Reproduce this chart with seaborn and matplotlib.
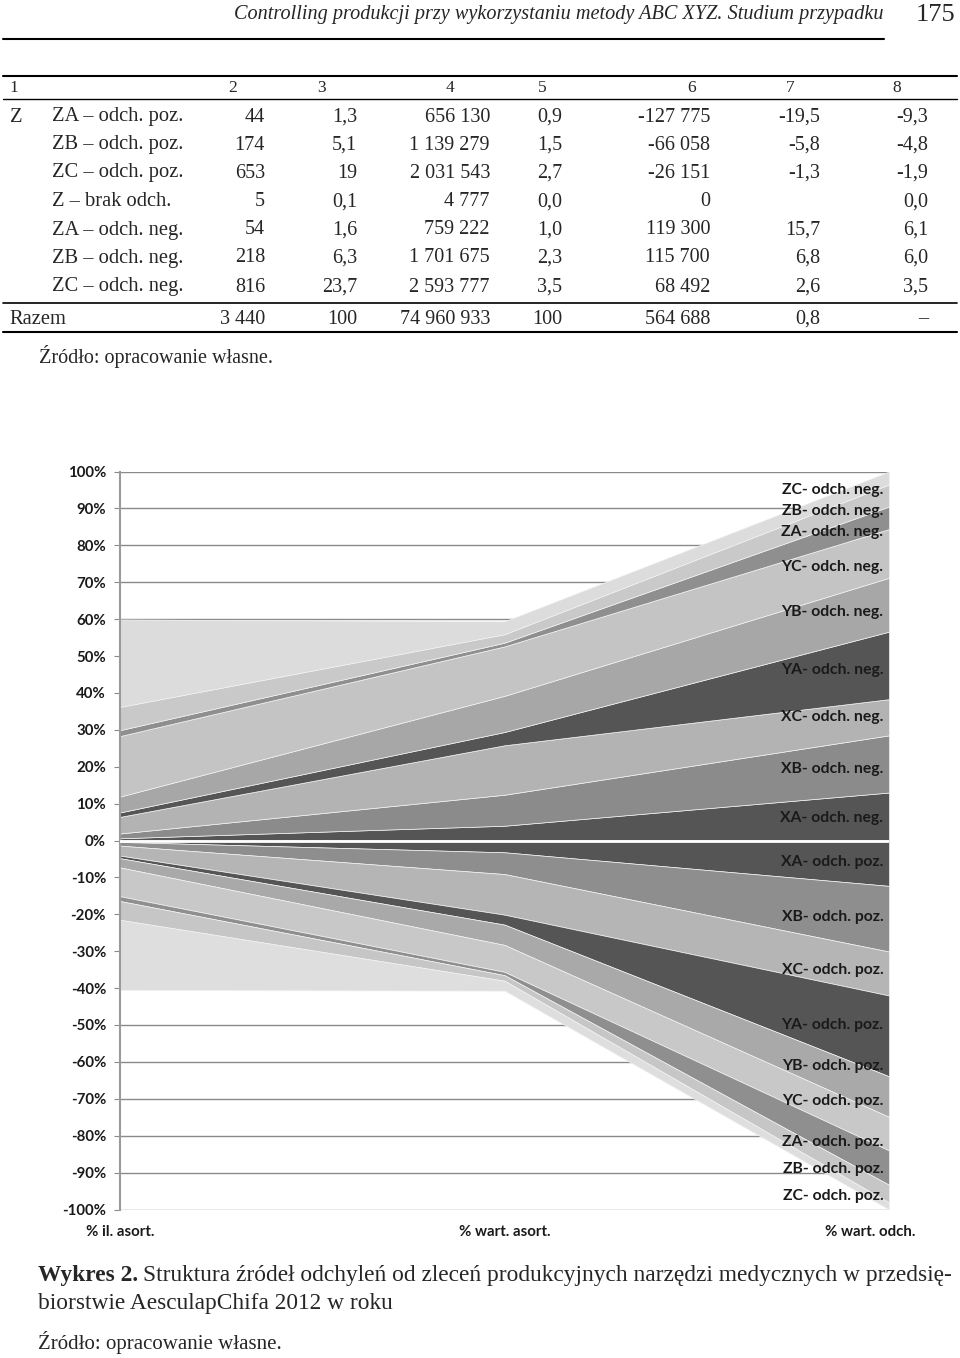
import matplotlib
matplotlib.use("Agg")
import matplotlib.pyplot as plt
from matplotlib.lines import Line2D
from matplotlib.transforms import ScaledTranslation
import numpy as np
import seaborn as sns

# ---------------- data ----------------
categories = ["% il. asort.", "% wart. asort.", "% wart. odch."]

# negative deviations (stacked upward), order bottom -> top
neg_names = ["XA- odch. neg.", "XB- odch. neg.", "XC- odch. neg.",
             "YA- odch. neg.", "YB- odch. neg.", "YC- odch. neg.",
             "ZA- odch. neg.", "ZB- odch. neg.", "ZC- odch. neg."]
xa_neg = [0.6, 4.0, 13.0]
xb_neg = [1.3, 8.4, 15.5]
xc_neg = [4.5, 13.4, 9.8]
ya_neg = [1.2, 3.6, 18.3]
yb_neg = [4.3, 9.8, 14.6]
yc_neg = [16.4, 13.4, 13.2]
za_neg = [1.6, 1.0, 6.1]
zb_neg = [6.3, 2.3, 6.0]
zc_neg = [23.7, 3.5, 3.5]

# positive deviations (stacked downward), order top -> bottom
poz_names = ["XA- odch. poz.", "XB- odch. poz.", "XC- odch. poz.",
             "YA- odch. poz.", "YB- odch. poz.", "YC- odch. poz.",
             "ZA- odch. poz.", "ZB- odch. poz.", "ZC- odch. poz."]
xa_poz = [-0.4, -3.2, -12.3]
xb_poz = [-1.0, -5.9, -17.8]
xc_poz = [-2.7, -11.0, -11.9]
ya_poz = [-0.7, -2.7, -21.9]
yb_poz = [-2.5, -5.5, -11.0]
yc_poz = [-7.8, -7.3, -9.1]
za_poz = [-1.3, -0.9, -9.3]
zb_poz = [-5.1, -1.5, -4.8]
zc_poz = [-19.0, -2.7, -1.9]

y_ticks = list(range(-100, 101, 10))
y_tick_labels = [f"{v}%" for v in y_ticks]

# table
table_header = ["1", "2", "3", "4", "5", "6", "7", "8"]
row_group = ["Z", "", "", "", "", "", ""]
row_names = ["ZA – odch. poz.", "ZB – odch. poz.", "ZC – odch. poz.", "Z – brak odch.",
             "ZA – odch. neg.", "ZB – odch. neg.", "ZC – odch. neg."]
col2 = ["44", "174", "653", "5", "54", "218", "816"]
col3 = ["1,3", "5,1", "19", "0,1", "1,6", "6,3", "23,7"]
col4 = ["656 130", "1 139 279", "2 031 543", "4 777", "759 222", "1 701 675", "2 593 777"]
col5 = ["0,9", "1,5", "2,7", "0,0", "1,0", "2,3", "3,5"]
col6 = ["-127 775", "-66 058", "-26 151", "0", "119 300", "115 700", "68 492"]
col7 = ["-19,5", "-5,8", "-1,3", "", "15,7", "6,8", "2,6"]
col8 = ["-9,3", "-4,8", "-1,9", "0,0", "6,1", "6,0", "3,5"]
totals = ["Razem", "3 440", "100", "74 960 933", "100", "564 688", "0,8", "–"]

# ---------------- style ----------------
sns.set_style("white")
plt.rcParams["font.family"] = ["Liberation Serif", "DejaVu Serif"]

W, H = 960, 1358
fig = plt.figure(figsize=(W / 100, H / 100), dpi=100)


def T(x, y, s, **kw):
    kw.setdefault("va", "center")
    return fig.text(x / W, 1 - y / H, s, **kw)


def HL(x1, x2, y, lw=1.2):
    fig.add_artist(Line2D([x1 / W, x2 / W], [1 - y / H, 1 - y / H], lw=lw, color="black"))


# page header
T(884, 15, "Controlling produkcji przy wykorzystaniu metody ABC XYZ. Studium przypadku",
  ha="right", style="italic", fontsize=14.6)
T(955, 15, "175", ha="right", fontsize=19)
HL(3, 884, 39, 1.5)

# table
HL(3, 957, 76, 1.5)
HL(3, 957, 99, 1.0)
HL(3, 957, 303, 1.2)
HL(3, 957, 332, 1.5)
hdr_x = [9, 233, 321, 450, 542, 692, 790, 897]
for x, s in zip(hdr_x, table_header):
    T(x, 88, s, ha="left" if x == 9 else "center", fontsize=12.5)

right_edges = [265, 357, 490, 562, 710, 820, 928]
row_y = [117, 145, 173, 202, 230, 258, 287]
for i, y in enumerate(row_y):
    if row_group[i]:
        T(10, y, row_group[i], ha="left", fontsize=14.8)
    T(52, y, row_names[i], ha="left", fontsize=14.8)
    for xr, col in zip(right_edges, [col2, col3, col4, col5, col6, col7, col8]):
        T(xr, y, col[i], ha="right", fontsize=14.5)
T(9, 319, totals[0], ha="left", fontsize=14.8)
for xr, s in zip(right_edges, totals[1:]):
    T(xr, 319, s, ha="right", fontsize=14.5)
T(39, 357, "Źródło: opracowanie własne.", ha="left", fontsize=14.5)

# caption
cap_bold = T(38, 1276, "Wykres 2.", ha="left", fontsize=16.8, fontweight="bold")
fig.canvas.draw()
bb = cap_bold.get_window_extent()
T(bb.x1 + 5, 1276, "Struktura źródeł odchyleń od zleceń produkcyjnych narzędzi medycznych w przedsię-",
  ha="left", fontsize=16.8)
T(38, 1304, "biorstwie AesculapChifa 2012 w roku", ha="left", fontsize=16.8)
T(38, 1343, "Źródło: opracowanie własne.", ha="left", fontsize=15.0)

# ---------------- chart ----------------
ax = fig.add_axes([120 / W, 1 - 1209.5 / H, (889 - 120) / W, (1209.5 - 471.5) / H])
x = np.arange(len(categories))

neg_series = [xa_neg, xb_neg, xc_neg, ya_neg, yb_neg, yc_neg, za_neg, zb_neg, zc_neg]
poz_series = [xa_poz, xb_poz, xc_poz, ya_poz, yb_poz, yc_poz, za_poz, zb_poz, zc_poz]
neg_colors = ["#555555", "#8b8b8b", "#b3b3b3", "#555555", "#a7a7a7", "#c4c4c4",
              "#8f8f8f", "#c9c9c9", "#dcdcdc"]
poz_colors = ["#555555", "#8e8e8e", "#b5b5b5", "#555555", "#a9a9a9", "#c8c8c8",
              "#8f8f8f", "#c6c6c6", "#dedede"]

for yv in y_ticks:
    ax.axhline(yv, color="#8a8a8a", lw=1.0, zorder=0)

base = np.zeros(len(categories))
for vals, col in zip(neg_series, neg_colors):
    top = base + np.array(vals)
    ax.fill_between(x, base, top, color=col, lw=0.5, edgecolor="#f2f2f2", zorder=2)
    base = top
base = np.zeros(len(categories))
for vals, col in zip(poz_series, poz_colors):
    bot = base + np.array(vals)
    ax.fill_between(x, bot, base, color=col, lw=0.5, edgecolor="#f2f2f2", zorder=2)
    base = bot

ax.axhline(0, color="white", lw=2.0, zorder=3)

ax.set_xlim(0, 2)
ax.set_ylim(-100, 100)
for s in ["top", "right", "bottom"]:
    ax.spines[s].set_visible(False)
ax.spines["left"].set_color("#9a9a9a")
ax.spines["left"].set_linewidth(1.5)
ax.set_yticks(y_ticks)
ax.set_yticklabels(y_tick_labels, family=["Lato", "DejaVu Sans"], fontweight="bold",
                   fontsize=10.8, color="#1a1a1a")
ax.tick_params(axis="y", length=4, color="#8a8a8a", pad=6, left=True)
ax.set_xticks(x)
ax.set_xticklabels(categories, family=["Lato", "DejaVu Sans"], fontweight="bold",
                   fontsize=10.8, color="#1a1a1a")
ax.tick_params(axis="x", length=0, pad=11)
lbl = ax.get_xticklabels()[2]
lbl.set_transform(lbl.get_transform() + ScaledTranslation(-19 / 100, 0, fig.dpi_scale_trans))

# series labels at last point
neg_label_y = [6.2, 19.3, 33.5, 46.1, 61.8, 74.2, 83.5, 89.2, 95.0]
poz_label_y = [-5.8, -20.8, -35.1, -49.9, -61.1, -70.7, -81.6, -89.0, -96.4]
for name, ly in zip(neg_names + poz_names, neg_label_y + poz_label_y):
    ax.annotate(name, xy=(2, ly), xytext=(-4, 0), textcoords="offset points",
                ha="right", va="center", family=["Lato", "DejaVu Sans"],
                fontweight="bold", fontsize=11.3, color="#1a1a1a", zorder=5)

fig.savefig("out.png", dpi=100)
